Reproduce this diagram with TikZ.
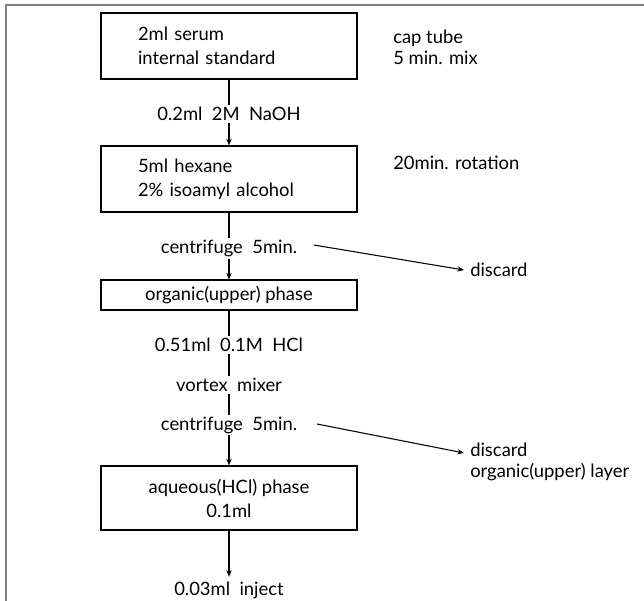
\documentclass[tikz,border=0pt]{standalone}
\usepackage{fontspec}
\setmainfont{Lato}
\usetikzlibrary{arrows.meta,calc}
\begin{document}
\begin{tikzpicture}[x=0.75pt,y=-0.75pt,
    every node/.style={font=\fontsize{13.8}{18}\selectfont},
    stepbox/.style={draw,line width=0.8pt,minimum width=192pt},
    leftbox/.style={stepbox,text width=136.5pt,inner xsep=27.75pt,align=left,minimum height=49.5pt},
    midbox/.style={stepbox,align=center},
    note/.style={anchor=west,align=left,inner sep=0pt,font=\fontsize{13.8}{15.5}\selectfont},
    lbl/.style={fill=white,inner xsep=1pt,inner ysep=1.5pt},
    flow/.style={line width=0.8pt,-{Stealth[length=5pt,width=4pt]}}]
  \useasboundingbox (0,0) rectangle (644,601);
  \draw[line width=1.5pt,gray] (6,601) -- (6,5) -- (644,5);

  \node[leftbox] (serum) at (229,46) {2ml serum\\internal standard};
  \node[leftbox] (hexane) at (229,179) {5ml hexane\\2\% isoamyl alcohol};
  \node[midbox,minimum height=22.5pt] (organic) at (229,295) {organic(upper) phase};
  \node[midbox,minimum height=48pt] (aqueous) at (229,498) {aqueous(HCl) phase\\0.1ml};

  \node[note] (captube) at (393,47) {cap tube\\5 min. mix};
  \node[note] (rotation) at (393,163) {20min. rotation};
  \node[note] (discardA) at (470,270) {discard};
  \node[note] (discardB) at (470,462) {discard\\organic(upper) layer};

  \draw[flow] (serum) -- (hexane) node[lbl,pos=0.52] (naoh) {0.2ml\ \ 2M\ \ NaOH};
  \draw[flow] (hexane) -- (organic) node[lbl,pos=0.54] (spinA) {centrifuge\ \ 5min.};
  \draw[flow] (organic) -- (aqueous);
  \node[lbl] (hcl) at (229,345) {0.51ml\ \ 0.1M\ \ HCl};
  \node[lbl] (vortex) at (229,385) {vortex\ \ mixer};
  \node[lbl] (spinB) at (229,425) {centrifuge\ \ 5min.};
  \node (inject) at (229,590) {0.03ml\ \ inject};
  \draw[flow] (aqueous) -- (inject);

  \coordinate (outA) at (314,245);
  \coordinate (outB) at (317,424);
  \draw[flow] (outA) -- ($(discardA.west)+(-6,0)$);
  \draw[flow] (outB) -- ($(discardB.north west)+(-6,10)$);
\end{tikzpicture}
\end{document}
